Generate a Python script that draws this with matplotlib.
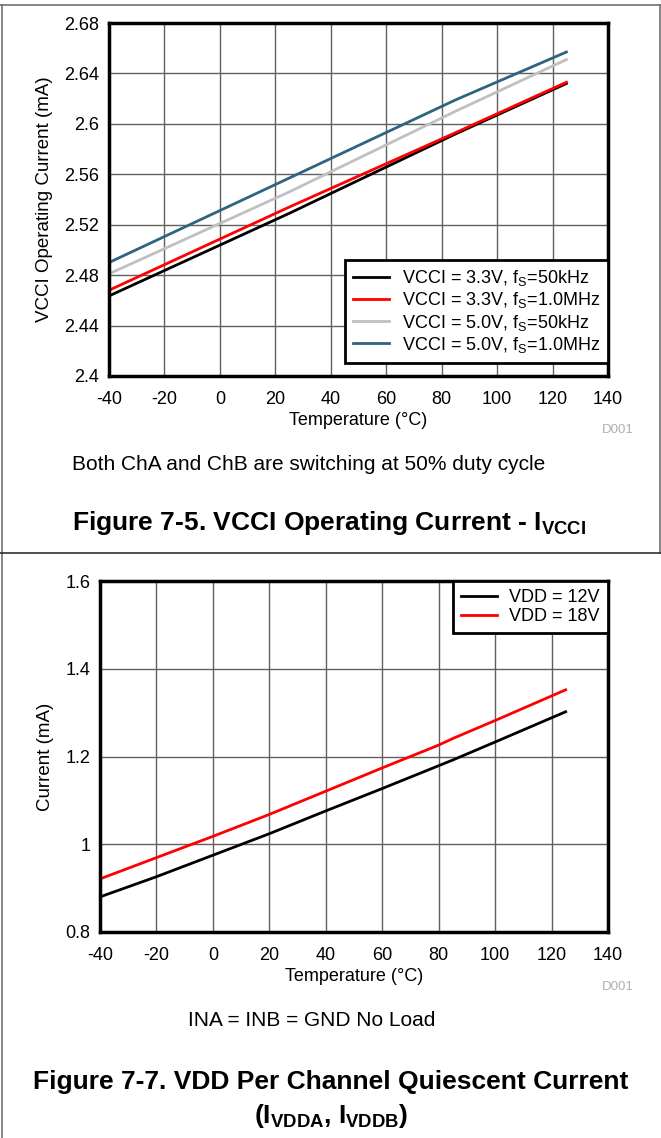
import numpy as np
import matplotlib
matplotlib.use('Agg')
import matplotlib.pyplot as plt
from matplotlib.lines import Line2D

plt.rcParams['font.family'] = ['Liberation Sans', 'DejaVu Sans']
plt.rcParams['mathtext.fontset'] = 'custom'
plt.rcParams['mathtext.rm'] = 'Liberation Sans'
plt.rcParams['mathtext.it'] = 'Liberation Sans'
plt.rcParams['mathtext.bf'] = 'Liberation Sans:bold'
plt.rcParams['axes.unicode_minus'] = False

# top chart: VCCI operating current
temp_a = [-40, 25, 85, 125]
vcci_33_50k = [2.4635, 2.529, 2.592, 2.632]
vcci_33_1m = [2.468, 2.534, 2.593, 2.633]
vcci_50_50k = [2.481, 2.546, 2.610, 2.651]
vcci_50_1m = [2.490, 2.557, 2.619, 2.657]
labels_a = [r'VCCI = 3.3V, f$_\mathregular{S}$=50kHz',
            r'VCCI = 3.3V, f$_\mathregular{S}$=1.0MHz',
            r'VCCI = 5.0V, f$_\mathregular{S}$=50kHz',
            r'VCCI = 5.0V, f$_\mathregular{S}$=1.0MHz']
colors_a = ['black', '#ff0000', '#c0c0c0', '#2e6382']

# bottom chart: VDD quiescent current
temp_b = [-40, -20, 0, 20, 40, 60, 80, 85, 100, 125]
vdd_12 = [0.880, 0.926, 0.975, 1.024, 1.076, 1.127, 1.179, 1.192, 1.233, 1.302]
vdd_18 = [0.921, 0.9695, 1.018, 1.068, 1.121, 1.174, 1.226, 1.241, 1.282, 1.352]
labels_b = ['VDD = 12V', 'VDD = 18V']
colors_b = ['black', '#ff0000']

xticks = list(range(-40, 141, 20))

fig = plt.figure(figsize=(6.61, 11.38), dpi=100)


def style_axes(ax):
    ax.set_xlim(-40, 140)
    ax.set_xticks(xticks)
    ax.grid(True, color='#606060', linewidth=1)
    ax.set_axisbelow(True)
    ax.tick_params(length=0, labelsize=13, pad=7)
    ax.tick_params(axis='x', pad=11)
    for s in ax.spines.values():
        s.set_linewidth(2.5)
        s.set_color('black')
    ax.set_xlabel('Temperature (°C)', fontsize=13, labelpad=3)


ax1 = fig.add_axes([109/661, 1-376/1138, 499/661, 353/1138])
for y, c, l in zip([vcci_33_50k, vcci_33_1m, vcci_50_50k, vcci_50_1m], colors_a, labels_a):
    ax1.plot(temp_a, y, color=c, lw=2, label=l)
style_axes(ax1)
ax1.set_ylim(2.4, 2.68)
ax1.set_yticks([2.4, 2.44, 2.48, 2.52, 2.56, 2.6, 2.64, 2.68])
ax1.set_yticklabels(['2.4', '2.44', '2.48', '2.52', '2.56', '2.6', '2.64', '2.68'])
ax1.set_ylabel('VCCI Operating Current (mA)', fontsize=13.5, labelpad=8)
leg = ax1.legend(loc='lower right', bbox_to_anchor=(1.0, 0.037), borderaxespad=0,
                 fancybox=False, framealpha=1, edgecolor='black', fontsize=13,
                 handlelength=2.0, handletextpad=0.7, labelspacing=0.12, borderpad=0.45)
leg.get_frame().set_linewidth(2)

ax2 = fig.add_axes([100/661, 1-932/1138, 508/661, 351/1138])
for y, c, l in zip([vdd_12, vdd_18], colors_b, labels_b):
    ax2.plot(temp_b, y, color=c, lw=2, label=l)
style_axes(ax2)
ax2.set_ylim(0.8, 1.6)
ax2.set_yticks([0.8, 1.0, 1.2, 1.4, 1.6])
ax2.set_yticklabels(['0.8', '1', '1.2', '1.4', '1.6'])
ax2.set_ylabel('Current (mA)', fontsize=13.5, labelpad=8)
leg2 = ax2.legend(loc='upper right', bbox_to_anchor=(1.0, 1.0), borderaxespad=0,
                  fancybox=False, framealpha=1, edgecolor='black', fontsize=13,
                  handlelength=2.0, handletextpad=0.7, labelspacing=0.12, borderpad=0.45)
leg2.get_frame().set_linewidth(2)

# annotations
fig.text(618/661, 1-430/1138, 'D001', color='#b0b0b0', fontsize=9.5, ha='center', va='center')
fig.text(618/661, 1-987/1138, 'D001', color='#b0b0b0', fontsize=9.5, ha='center', va='center')
fig.text(72/661, 1-465/1138, 'Both ChA and ChB are switching at 50% duty cycle',
         fontsize=15, ha='left', va='center')
fig.text(72/661, 1-523/1138, r'Figure 7-5. VCCI Operating Current - I$_{\mathbf{VCCI}}$',
         fontsize=19, fontweight='bold', ha='left', va='center')
fig.text(312/661, 1-1021/1138, 'INA = INB = GND No Load', fontsize=15, ha='center', va='center')
fig.text(331/661, 1-1082/1138, 'Figure 7-7. VDD Per Channel Quiescent Current',
         fontsize=19, fontweight='bold', ha='center', va='center')
fig.text(331/661, 1-1116/1138, r'(I$_{\mathbf{VDDA}}$, I$_{\mathbf{VDDB}}$)',
         fontsize=19, fontweight='bold', ha='center', va='center')

# panel borders
fig.add_artist(Line2D([0, 1], [1-4.5/1138, 1-4.5/1138], color='#707070', lw=1.2))
fig.add_artist(Line2D([1.5/661, 1.5/661], [0, 1-4.5/1138], color='#707070', lw=1.2))
fig.add_artist(Line2D([659.5/661, 659.5/661], [1-553/1138, 1-4.5/1138], color='#707070', lw=1.2))
fig.add_artist(Line2D([0, 1], [1-553/1138, 1-553/1138], color='#303030', lw=1.2))

fig.savefig('out.png', dpi=100)
